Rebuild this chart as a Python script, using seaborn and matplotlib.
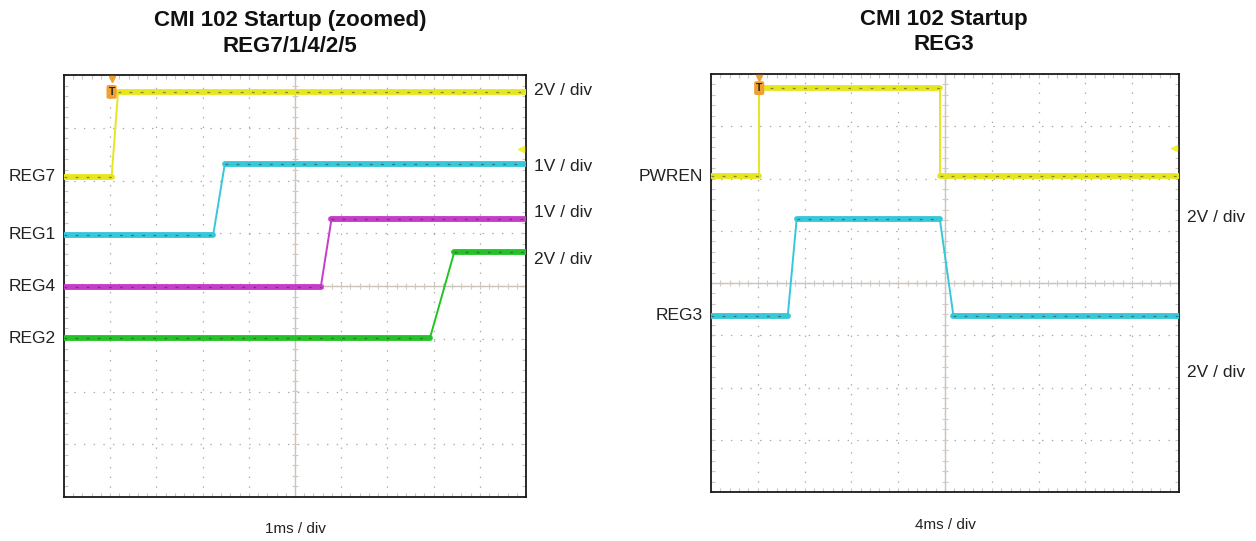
import numpy as np
import pandas as pd
import matplotlib
matplotlib.use("Agg")
import matplotlib.pyplot as plt
import matplotlib.transforms as mtrans
from matplotlib.ticker import MultipleLocator, NullFormatter
import seaborn as sns

# ---------------- data (time in ms, level in screen divisions) ----------------
# Left panel: 1 ms / div
reg7_t = [0.0, 1.03, 1.17, 10.0]
reg7_v = [2.07, 2.07, 3.68, 3.68]
reg1_t = [0.0, 3.23, 3.48, 10.0]
reg1_v = [0.97, 0.97, 2.31, 2.31]
reg4_t = [0.0, 5.56, 5.79, 10.0]
reg4_v = [-0.01, -0.01, 1.27, 1.27]
reg2_t = [0.0, 7.92, 8.45, 10.0]
reg2_v = [-0.99, -0.99, 0.65, 0.65]
left_names = ["REG7", "REG1", "REG4", "REG2"]
left_scale_text = ["2V / div", "1V / div", "1V / div", "2V / div"]
left_scale_y = [3.70, 2.27, 1.40, 0.51]

# Right panel: 4 ms / div
pwren_t = [0.0, 4.12, 4.12, 19.56, 19.56, 40.0]
pwren_v = [2.04, 2.04, 3.73, 3.73, 2.04, 2.04]
reg3_t = [0.0, 6.56, 7.32, 19.56, 20.72, 40.0]
reg3_v = [-0.63, -0.63, 1.22, 1.22, -0.63, -0.63]
right_names = ["PWREN", "REG3"]
right_scale_text = ["2V / div", "2V / div"]
right_scale_y = [1.25, -1.72]

titles = ["CMI 102 Startup (zoomed)\nREG7/1/4/2/5", "CMI 102 Startup\nREG3"]
time_labels = ["1ms / div", "4ms / div"]
ms_per_div = [1.0, 4.0]
trigger_level = [2.6, 2.59]

colors = {"REG7": "#e6e61e", "REG1": "#35c8d8", "REG4": "#c43cc8",
          "REG2": "#22c425", "PWREN": "#e6e61e", "REG3": "#35c8d8"}

# ---------------- style ----------------
sns.set_style("white")
plt.rcParams["font.family"] = ["Liberation Sans", "DejaVu Sans"]
plt.rcParams["lines.scale_dashes"] = False

W, H = 1256, 541
fig = plt.figure(figsize=(W / 100, H / 100), dpi=100)
ax_l = fig.add_axes([64 / W, 1 - 497 / H, 462 / W, 422 / H])
ax_r = fig.add_axes([711 / W, 1 - 492 / H, 468 / W, 418 / H])


def build(traces):
    full, flat = [], []
    seg = 0
    for name, t, v in traces:
        for ti, vi in zip(t, v):
            full.append((name, ti, vi))
        for i in range(len(t) - 1):
            if v[i] == v[i + 1] and t[i + 1] > t[i]:
                flat.append((name, seg, t[i], v[i]))
                flat.append((name, seg, t[i + 1], v[i + 1]))
                seg += 1
    return (pd.DataFrame(full, columns=["name", "t", "v"]),
            pd.DataFrame(flat, columns=["name", "seg", "t", "v"]))


def scope_axes(ax, div):
    ax.set_xlim(0, 10 * div)
    ax.set_ylim(-4, 4)
    ax.xaxis.set_major_locator(MultipleLocator(div))
    ax.xaxis.set_minor_locator(MultipleLocator(div / 5))
    ax.yaxis.set_major_locator(MultipleLocator(1))
    ax.yaxis.set_minor_locator(MultipleLocator(0.2))
    ax.xaxis.set_major_formatter(NullFormatter())
    ax.yaxis.set_major_formatter(NullFormatter())
    ax.tick_params(which="both", direction="in", top=True, right=True,
                   bottom=True, left=True, color="#c8c8c8", length=3, width=0.8)
    ax.grid(True, which="major", linestyle=(0, (1, 6)), color="#a8a8a8", lw=0.9)
    for s in ax.spines.values():
        s.set_color("#1a1a1a")
        s.set_linewidth(1.3)
    # centre cross with small ticks
    ax.axhline(0, color="#cbc2b8", lw=1.0, zorder=1)
    ax.axvline(5 * div, color="#cbc2b8", lw=1.0, zorder=1)
    xs = np.arange(0, 10 * div + 1e-9, div / 5)
    ys = np.arange(-4, 4 + 1e-9, 0.2)
    ax.plot(xs, np.zeros_like(xs), ls="", marker="|", ms=5, mew=0.8,
            color="#d2cac2", zorder=1)
    ax.plot(np.full_like(ys, 5 * div), ys, ls="", marker="_", ms=5, mew=0.8,
            color="#d2cac2", zorder=1)


def draw(ax, traces, div):
    scope_axes(ax, div)
    full, flat = build(traces)
    for name in full["name"].unique():
        c = colors[name]
        sns.lineplot(data=full[full["name"] == name], x="t", y="v", sort=False,
                     estimator=None, color=c, lw=1.4, ax=ax, zorder=3)
        fs = flat[flat["name"] == name]
        sns.lineplot(data=fs, x="t", y="v", units="seg", estimator=None,
                     sort=False, color=c, lw=4.2, ax=ax, zorder=4)
        sns.lineplot(data=fs, x="t", y="v", units="seg", estimator=None,
                     sort=False, color="#333333", lw=0.9, alpha=0.55,
                     linestyle=(0, (2, 6)), ax=ax, zorder=5)
    ax.set_xlabel("")
    ax.set_ylabel("")


left_traces = [("REG7", reg7_t, reg7_v), ("REG1", reg1_t, reg1_v),
               ("REG4", reg4_t, reg4_v), ("REG2", reg2_t, reg2_v)]
right_traces = [("PWREN", pwren_t, pwren_v), ("REG3", reg3_t, reg3_v)]

draw(ax_l, left_traces, ms_per_div[0])
draw(ax_r, right_traces, ms_per_div[1])

panels = [
    (ax_l, left_traces, left_scale_text, left_scale_y, ms_per_div[0],
     trigger_level[0], titles[0], time_labels[0], reg7_t[1], reg7_v[-1],
     290 / W, 1 - 33.5 / H, -0.077),
    (ax_r, right_traces, right_scale_text, right_scale_y, ms_per_div[1],
     trigger_level[1], titles[1], time_labels[1], pwren_t[1], pwren_v[2],
     944 / W, 1 - 32 / H, -0.080),
]
for (ax, traces, stext, sy, div, tl, title, tlab, trig_t, trig_v,
     tx, ty, by) in panels:
    tr_left = mtrans.blended_transform_factory(ax.transAxes, ax.transData)
    for name, t, v in traces:
        ax.text(-0.017, v[0], name, transform=tr_left, ha="right", va="center",
                fontsize=12.5, color="#222222")
    for s, y in zip(stext, sy):
        ax.text(1.017, y, s, transform=tr_left, ha="left", va="center",
                fontsize=12.5, color="#222222")
    fig.text(tx, ty, title, ha="center", va="center", fontsize=16,
             fontweight="bold", color="#111111", linespacing=1.29)
    ax.text(0.5, by, tlab, transform=ax.transAxes, ha="center", va="center",
            fontsize=11, color="#222222")
    # trigger markers
    ax.plot([trig_t], [3.93], marker="v", ms=5, color="#f0a030", ls="",
            clip_on=False, zorder=6)
    ax.text(trig_t, trig_v, "T", ha="center", va="center", fontsize=7.5,
            fontweight="bold", color="#222222", zorder=7,
            bbox=dict(boxstyle="round,pad=0.18", fc="#f0a030", ec="none"))
    ax.plot([10 * div * 0.99], [tl], marker="<", ms=5, color="#f2f230", ls="",
            zorder=6)

fig.savefig("out.png", dpi=100)
